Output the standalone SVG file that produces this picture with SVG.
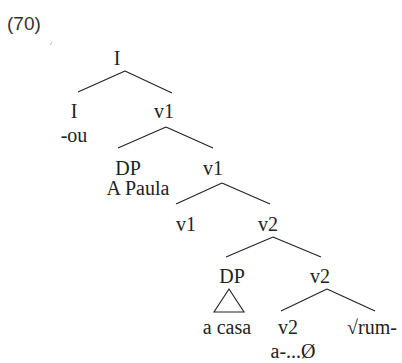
<svg xmlns="http://www.w3.org/2000/svg" width="402" height="363" viewBox="0 0 402 363">
<style>
.t{font-family:"Liberation Serif","Times New Roman",serif;font-size:20px;fill:#222;text-anchor:middle}
.n{font-family:"Liberation Sans",Arial,sans-serif;font-size:19px;fill:#333}
.e{stroke:#222;stroke-width:1.1;fill:none}
</style>
<rect width="402" height="363" fill="#fff"/>
<text class="n" x="7" y="30">(70)</text>
<line x1="50" y1="45" x2="52" y2="42" stroke="#999" stroke-width="0.8"/>
<g id="connectors">
<path class="e" d="M125,71 L78,92 M125,71 L172,93"/>
<path class="e" d="M166,127 L118,148 M166,127 L213,148"/>
<path class="e" d="M222,183 L176,204 M222,183 L270,204"/>
<path class="e" d="M273,237 L226,257 M273,237 L321,257"/>
<path class="e" d="M327,289 L281,311 M327,289 L375,311"/>
<path class="e" d="M229,289 L214,312 L244,312 Z"/>
</g>
<g id="n-I-root"><text class="t" x="117" y="65">I</text></g>
<g id="n-I"><text class="t" x="74" y="118">I</text><text class="t" x="74" y="142">-ou</text></g>
<g id="n-v1-a"><text class="t" x="164" y="118">v1</text></g>
<g id="n-DP-a"><text class="t" x="128" y="175">DP</text><text class="t" x="138" y="195">A Paula</text></g>
<g id="n-v1-b"><text class="t" x="213" y="175">v1</text></g>
<g id="n-v1-c"><text class="t" x="186" y="231">v1</text></g>
<g id="n-v2-a"><text class="t" x="268" y="231">v2</text></g>
<g id="n-DP-b"><text class="t" x="232" y="283">DP</text><text class="t" x="227" y="334">a casa</text></g>
<g id="n-v2-b"><text class="t" x="320" y="283">v2</text></g>
<g id="n-v2-c"><text class="t" x="288" y="334">v2</text><text class="t" x="293" y="358">a-...Ø</text></g>
<g id="n-rum"><text class="t" x="347" y="334" style="text-anchor:start">√rum-</text></g>
</svg>
